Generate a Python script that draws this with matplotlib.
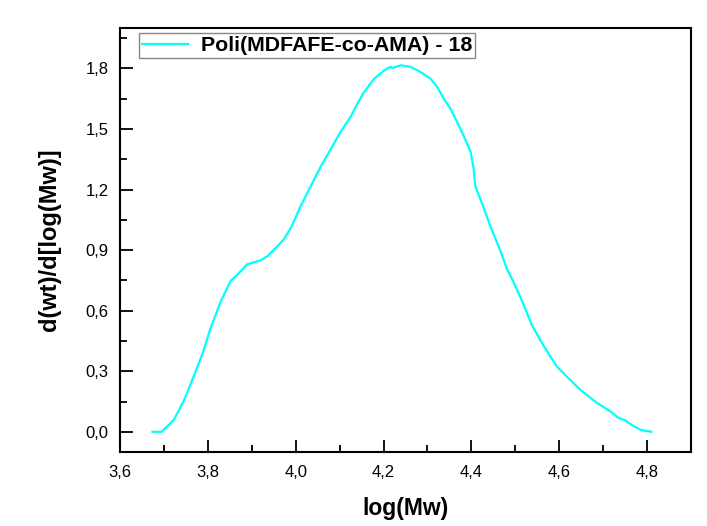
import matplotlib
matplotlib.use("Agg")
import matplotlib.pyplot as plt
from matplotlib.ticker import MultipleLocator, FuncFormatter

plt.rcParams['font.family'] = ['Liberation Sans', 'DejaVu Sans']

# Molecular weight distribution of the copolymer
log_mw = [3.674, 3.695, 3.723, 3.746, 3.769, 3.788, 3.807, 3.830, 3.852, 3.868,
          3.890, 3.909, 3.920, 3.936, 3.951, 3.973, 3.989, 3.996, 4.011, 4.034,
          4.057, 4.080, 4.102, 4.125, 4.140, 4.155, 4.178, 4.201, 4.216, 4.220,
          4.239, 4.261, 4.284, 4.307, 4.322, 4.337, 4.352, 4.367, 4.383, 4.398,
          4.405, 4.409, 4.428, 4.443, 4.466, 4.481, 4.496, 4.515, 4.538, 4.557,
          4.580, 4.595, 4.617, 4.648, 4.686, 4.716, 4.735, 4.750, 4.769, 4.788,
          4.810]
dwdlog = [0.000, 0.000, 0.060, 0.157, 0.280, 0.387, 0.518, 0.649, 0.747, 0.780,
          0.830, 0.842, 0.849, 0.870, 0.903, 0.953, 1.010, 1.043, 1.116, 1.215,
          1.313, 1.400, 1.485, 1.559, 1.623, 1.680, 1.747, 1.789, 1.808, 1.802,
          1.815, 1.808, 1.782, 1.749, 1.709, 1.651, 1.602, 1.537, 1.463, 1.389,
          1.307, 1.217, 1.110, 1.020, 0.897, 0.807, 0.741, 0.651, 0.528, 0.454,
          0.372, 0.323, 0.274, 0.208, 0.143, 0.102, 0.069, 0.057, 0.028, 0.008,
          0.000]

series_label = "Poli(MDFAFE-co-AMA) - 18"
x_title = "log(Mw)"
y_title = "d(wt)/d[log(Mw)]"

fig = plt.figure(figsize=(7.07, 5.26), dpi=100)
ax = fig.add_axes([0.1697, 0.1407, 0.8076, 0.8061])

ax.plot(log_mw, dwdlog, color='#00FFFF', lw=1.6, label=series_label)

ax.set_xlim(3.6, 4.9)
ax.set_ylim(-0.1, 2.0)
ax.xaxis.set_major_locator(MultipleLocator(0.2))
ax.xaxis.set_minor_locator(MultipleLocator(0.1))
ax.yaxis.set_major_locator(MultipleLocator(0.3))
ax.yaxis.set_minor_locator(MultipleLocator(0.15))
comma = FuncFormatter(lambda v, p: f"{v:.1f}".replace('.', ','))
ax.xaxis.set_major_formatter(comma)
ax.yaxis.set_major_formatter(comma)

ax.tick_params(which='both', direction='in', top=False, right=False,
               width=1.3, labelsize=12, colors='black')
ax.tick_params(which='major', length=9)
ax.tick_params(which='minor', length=5)
ax.tick_params(axis='x', which='major', pad=9.5)
ax.tick_params(axis='y', which='major', pad=8)
for s in ax.spines.values():
    s.set_linewidth(1.5)

ax.set_xlabel(x_title, fontsize=16.5, fontweight='bold', labelpad=12)
ax.set_ylabel(y_title, fontsize=17, fontweight='bold', labelpad=17.5)

leg = ax.legend(loc='upper left', bbox_to_anchor=(0.033, 0.988), borderaxespad=0,
                fancybox=False, framealpha=1, edgecolor='#888888',
                prop={'size': 15.4, 'weight': 'bold'}, handlelength=2.15,
                borderpad=0.15, handletextpad=0.6)
leg.get_frame().set_linewidth(1.0)

fig.savefig("out.png", dpi=100)
